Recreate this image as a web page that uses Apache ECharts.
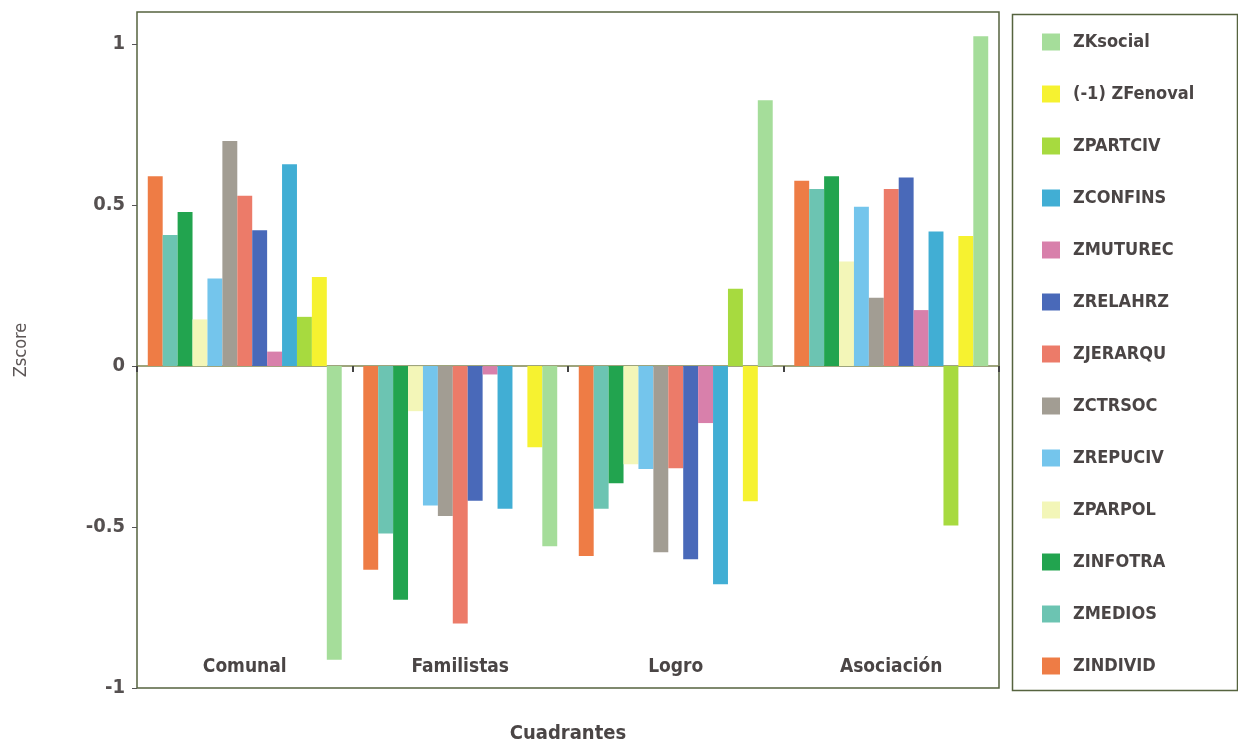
<!DOCTYPE html>
<html>
<head>
<meta charset="utf-8">
<script src="https://cdn.jsdelivr.net/npm/echarts@6/dist/echarts.min.js"></script>
<style>
  html, body { margin: 0; padding: 0; background: #fff; }
  #root { width: 1238px; height: 745px; }
</style>
</head>
<body>
<div id="root"></div>
<script>
// datos
const categories = ['Comunal', 'Familistas', 'Logro', 'Asociación'];

const seriesNames = ['ZINDIVID', 'ZMEDIOS', 'ZINFOTRA', 'ZPARPOL', 'ZREPUCIV', 'ZCTRSOC',
    'ZJERARQU', 'ZRELAHRZ', 'ZMUTUREC', 'ZCONFINS', 'ZPARTCIV', '(-1) ZFenoval', 'ZKsocial'];

const zindivid = [0.59, -0.633, -0.59, 0.576];
const zmedios = [0.407, -0.52, -0.443, 0.55];
const zinfotra = [0.479, -0.726, -0.364, 0.59];
const zparpol = [0.145, -0.14, -0.305, 0.325];
const zrepuciv = [0.272, -0.433, -0.32, 0.495];
const zctrsoc = [0.699, -0.466, -0.578, 0.212];
const zjerarqu = [0.529, -0.80, -0.317, 0.55];
const zrelahrz = [0.422, -0.418, -0.60, 0.586];
const zmuturec = [0.045, -0.026, -0.177, 0.174];
const zconfins = [0.627, -0.443, -0.678, 0.418];
const zpartciv = [0.153, 0, 0.24, -0.495];
const zfenoval = [0.277, -0.252, -0.42, 0.404];
const zksocial = [-0.912, -0.56, 0.826, 1.025];

const seriesValues = [zindivid, zmedios, zinfotra, zparpol, zrepuciv, zctrsoc,
    zjerarqu, zrelahrz, zmuturec, zconfins, zpartciv, zfenoval, zksocial];

const yTicks = { min: -1, max: 1.1, interval: 0.5 };

const colors = ['#ee7c45', '#6cc4b2', '#22a44f', '#f3f6b8', '#74c5ec', '#a29d93',
    '#ec7b69', '#4969b9', '#d880ab', '#41aed4', '#a7da3f', '#f6f230', '#a5dd9a'];

const FONT = '"DejaVu Sans Condensed", "Roboto", sans-serif';
const TXT = '#4a4545';

let myChart = echarts.init(document.getElementById('root'));

let series = seriesNames.map((name, i) => ({
    name: name,
    type: 'bar',
    xAxisIndex: 0,
    data: seriesValues[i],
    barGap: '0%',
    barCategoryGap: '10%',
    itemStyle: { color: colors[i] }
}));

let option = {
    animation: false,
    backgroundColor: '#fff',
    textStyle: { fontFamily: FONT },
    grid: {
        left: 137, right: 239, top: 12, bottom: 57,
        outerBoundsMode: 'none',
        containLabel: false,
        show: true,
        borderColor: '#56633f',
        borderWidth: 1.5,
        backgroundColor: 'transparent'
    },
    legend: {
        orient: 'vertical',
        left: 1037,
        top: 28,
        itemWidth: 18,
        itemHeight: 17,
        itemGap: 34,
        icon: 'rect',
        data: seriesNames.slice().reverse(),
        textStyle: { fontFamily: FONT, fontSize: 18, fontWeight: 'bold', color: TXT, padding: [0, 0, 0, 8] }
    },
    graphic: [{
        type: 'rect',
        left: 1010, top: 12,
        shape: { width: 225, height: 676 },
        style: { fill: 'none', stroke: '#56633f', lineWidth: 1.5 }
    }],
    xAxis: [{
        type: 'category',
        data: categories,
        position: 'bottom',
        axisLine: { show: false, onZero: false },
        axisTick: { show: false },
        axisLabel: { inside: true, margin: 11, fontFamily: FONT, fontSize: 19, fontWeight: 'bold', color: TXT },
        name: 'Cuadrantes',
        nameLocation: 'middle',
        nameGap: 36,
        nameTextStyle: { fontFamily: FONT, fontSize: 20, fontWeight: 'bold', color: TXT }
    }, {
        type: 'category',
        data: categories,
        position: 'bottom',
        axisLine: { show: true, onZero: true, lineStyle: { color: '#7f8752', width: 1.5 } },
        axisTick: { show: true, length: 6, lineStyle: { color: '#444', width: 2 } },
        axisLabel: { show: false }
    }],
    yAxis: {
        type: 'value',
        min: yTicks.min,
        max: yTicks.max,
        interval: yTicks.interval,
        splitLine: { show: false },
        axisLine: { show: false },
        axisTick: { show: true, length: 5, lineStyle: { color: '#555' } },
        axisLabel: { showMaxLabel: false, margin: 12, fontFamily: FONT, fontSize: 20, fontWeight: 'bold', color: '#555050' },
        name: 'Zscore',
        nameLocation: 'middle',
        nameRotate: 90,
        nameGap: 107,
        nameTextStyle: { fontFamily: FONT, fontSize: 18, color: '#5c5656' }
    },
    series: series
};

myChart.setOption(option);
</script>
</body>
</html>
